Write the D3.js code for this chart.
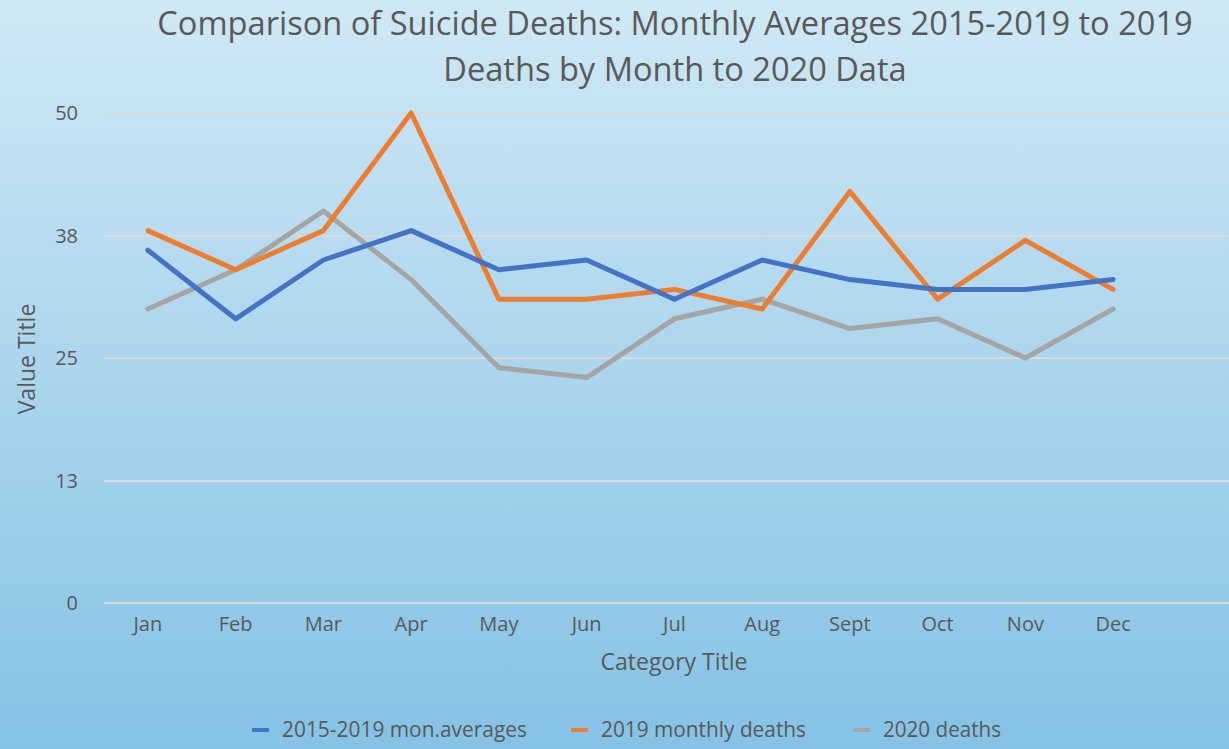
<!DOCTYPE html>
<html>
<head>
<meta charset="utf-8">
<script src="https://cdn.jsdelivr.net/npm/d3@7"></script>
<style>
  html, body { margin: 0; padding: 0; }
  svg text { font-family: "Open Sans", sans-serif; fill: #595959; }
</style>
</head>
<body>
<svg id="chart" width="1229" height="749"></svg>
<script>
// Months shown on the category axis (the chart keeps one empty slot at the end)
const months = ['Jan', 'Feb', 'Mar', 'Apr', 'May', 'Jun', 'Jul', 'Aug', 'Sept', 'Oct', 'Nov', 'Dec'];
const avg2015to2019 = [36, 29, 35, 38, 34, 35, 31, 35, 33, 32, 32, 33];
const deaths2019 = [38, 34, 38, 50, 31, 31, 32, 30, 42, 31, 37, 32];
const deaths2020 = [30, 34, 40, 33, 24, 23, 29, 31, 28, 29, 25, 30];
const yTicks = [0, 12.5, 25, 37.5, 50];
const seriesNames = ['2015-2019 mon.averages', '2019 monthly deaths', '2020 deaths'];
const seriesColors = ['#4472c4', '#ed7d31', '#a5a5a5'];

const W = 1229, H = 749;
const svg = d3.select('#chart');

// background gradient
const defs = svg.append('defs');
const grad = defs.append('linearGradient')
  .attr('id', 'bg')
  .attr('x1', 0).attr('y1', 0).attr('x2', 0).attr('y2', 1);
grad.append('stop').attr('offset', '0%').attr('stop-color', '#cfe8f5');
grad.append('stop').attr('offset', '100%').attr('stop-color', '#85c2e5');
svg.append('rect').attr('width', W).attr('height', H).attr('fill', 'url(#bg)');

const plotLeft = 104, plotTop = 113, plotBottom = 603;

const x = d3.scaleBand()
  .domain(months.concat(['']))
  .range([plotLeft, plotLeft + 87.75 * 13]);

const y = d3.scaleLinear()
  .domain([0, 50])
  .range([plotBottom, plotTop]);

// gridlines
svg.append('g')
  .selectAll('line')
  .data(yTicks)
  .enter()
  .append('line')
  .attr('x1', plotLeft)
  .attr('x2', W)
  .attr('y1', d => Math.round(y(d)))
  .attr('y2', d => Math.round(y(d)))
  .attr('stroke', '#d9d9d9')
  .attr('stroke-width', 2);

// y tick labels
svg.append('g')
  .selectAll('text')
  .data(yTicks)
  .enter()
  .append('text')
  .attr('x', 78)
  .attr('y', d => y(d))
  .attr('dy', '0.35em')
  .attr('text-anchor', 'end')
  .style('font-size', '20px')
  .text(d => d3.format('.0f')(Math.round(d)));

// x tick labels
svg.append('g')
  .selectAll('text')
  .data(months)
  .enter()
  .append('text')
  .attr('x', d => x(d) + x.bandwidth() / 2)
  .attr('y', 631)
  .attr('text-anchor', 'middle')
  .style('font-size', '20px')
  .text(d => d);

// series lines
const line = d3.line()
  .x((d, i) => x(months[i]) + x.bandwidth() / 2)
  .y(d => y(d));

[avg2015to2019, deaths2019, deaths2020].slice().reverse().forEach((vals, k) => {
  const idx = 2 - k;
  svg.append('path')
    .datum(vals)
    .attr('d', line)
    .attr('fill', 'none')
    .attr('stroke', seriesColors[idx])
    .attr('stroke-width', 5)
    .attr('stroke-linejoin', 'round')
    .attr('stroke-linecap', 'round');
});

// title
const title = svg.append('text')
  .attr('text-anchor', 'middle')
  .style('font-size', '32.6px');
title.append('tspan').attr('x', 675).attr('y', 35)
  .text('Comparison of Suicide Deaths: Monthly Averages 2015-2019 to 2019');
title.append('tspan').attr('x', 675).attr('y', 81)
  .text('Deaths by Month to 2020 Data');

// axis titles
svg.append('text')
  .attr('x', 674)
  .attr('y', 670)
  .attr('text-anchor', 'middle')
  .style('font-size', '23px')
  .text('Category Title');

svg.append('text')
  .attr('transform', 'translate(35,359) rotate(-90)')
  .attr('text-anchor', 'middle')
  .style('font-size', '23px')
  .text('Value Title');

// legend
const legendX = [252, 571, 853];
const legendW = [245, 205, 118];
const lg = svg.append('g')
  .selectAll('g')
  .data(seriesNames)
  .enter()
  .append('g');
lg.append('line')
  .attr('x1', (d, i) => legendX[i])
  .attr('x2', (d, i) => legendX[i] + 17)
  .attr('y1', 730).attr('y2', 730)
  .attr('stroke', (d, i) => seriesColors[i])
  .attr('stroke-width', 4);
lg.append('text')
  .attr('x', (d, i) => legendX[i] + 30)
  .attr('y', 730)
  .attr('dy', '0.35em')
  .attr('textLength', (d, i) => legendW[i])
  .attr('lengthAdjust', 'spacingAndGlyphs')
  .style('font-size', '21px')
  .text(d => d);
</script>
</body>
</html>
